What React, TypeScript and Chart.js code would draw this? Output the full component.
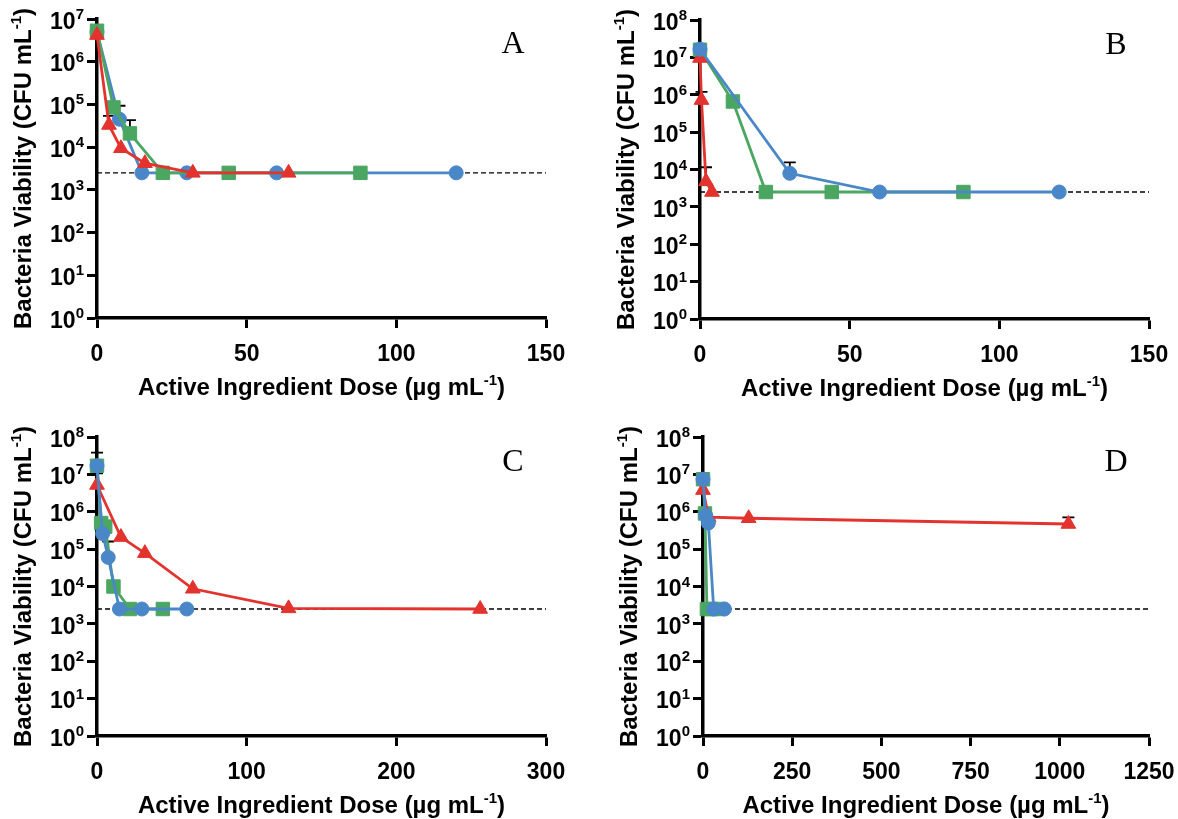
import React, { useEffect, useRef } from "react";
import { Chart, registerables } from "chart.js";
Chart.register(...registerables);

const PAGE_W = 1178;
const PAGE_H = 819;
const BLUE = "#4a87c8";
const GREEN = "#4aa661";
const RED = "#e3332e";
const LOD = 2.5e3;

const X_TITLE = [{ t: "Active Ingredient Dose (\u00b5g mL" }, { t: "-1", sup: true }, { t: ")" }];
const Y_TITLE = [{ t: "Bacteria Viability (CFU mL" }, { t: "-1", sup: true }, { t: ")" }];

// ---------- Panel A ----------
const A_xTicks = [0, 50, 100, 150];
const A_yTicks = [1e0, 1e1, 1e2, 1e3, 1e4, 1e5, 1e6, 1e7];
const A_blueDose = [0, 7.5, 15, 30, 60, 120];
const A_blueCfu = [5.0e6, 4.5e4, 2.5e3, 2.5e3, 2.5e3, 2.5e3];
const A_blueErr = [null, 9.3e4, null, null, null, null];
const A_greenDose = [0, 5.5, 11, 22, 44, 88];
const A_greenCfu = [5.3e6, 8.5e4, 2.1e4, 2.5e3, 2.5e3, 2.5e3];
const A_greenErr = [null, null, 4.3e4, null, null, null];
const A_redDose = [0, 4, 8, 16, 32, 64];
const A_redCfu = [4.2e6, 3.3e4, 9.4e3, 4.2e3, 2.5e3, 2.5e3];
const A_redErr = [null, 5.4e4, null, null, null, null];

// ---------- Panel B ----------
const B_xTicks = [0, 50, 100, 150];
const B_yTicks = [1e0, 1e1, 1e2, 1e3, 1e4, 1e5, 1e6, 1e7, 1e8];
const B_blueDose = [0, 30, 60, 120];
const B_blueCfu = [1.65e7, 7.9e3, 2.5e3, 2.5e3];
const B_blueErr = [2.3e7, 1.55e4, null, null];
const B_greenDose = [0, 11, 22, 44, 88];
const B_greenCfu = [1.6e7, 6.6e5, 2.5e3, 2.5e3, 2.5e3];
const B_greenErr = [null, null, null, null, null];
const B_redDose = [0, 0.5, 2, 4];
const B_redCfu = [9.6e6, 7.2e5, 4.8e3, 2.5e3];
const B_redErr = [null, 1.2e6, 1.15e4, null];

// ---------- Panel C ----------
const C_xTicks = [0, 100, 200, 300];
const C_yTicks = [1e0, 1e1, 1e2, 1e3, 1e4, 1e5, 1e6, 1e7, 1e8];
const C_blueDose = [0, 3.75, 7.5, 15, 30, 60];
const C_blueCfu = [1.7e7, 2.6e5, 6.0e4, 2.5e3, 2.5e3, 2.5e3];
const C_blueErr = [3.8e7, null, 1.6e5, null, null, null];
const C_greenDose = [0, 2.75, 5.5, 11, 22, 44];
const C_greenCfu = [1.7e7, 5.0e5, 4.0e5, 1.0e4, 2.5e3, 2.5e3];
const C_greenErr = [null, null, 4.7e5, null, null, null];
const C_redDose = [0, 16, 32, 64, 128, 256];
const C_redCfu = [5.2e6, 2.1e5, 7.8e4, 8.7e3, 2.6e3, 2.5e3];
const C_redErr = [1.07e7, null, null, null, null, null];

// ---------- Panel D ----------
const D_xTicks = [0, 250, 500, 750, 1000, 1250];
const D_yTicks = [1e0, 1e1, 1e2, 1e3, 1e4, 1e5, 1e6, 1e7, 1e8];
const D_blueDose = [0, 7.5, 15, 30, 60];
const D_blueCfu = [7.4e6, 8.0e5, 5.0e5, 2.5e3, 2.5e3];
const D_blueErr = [1.1e7, 1.0e6, null, null, null];
const D_greenDose = [0, 5.5, 11, 22, 44];
const D_greenCfu = [7.4e6, 9.0e5, 2.5e3, 2.5e3, 2.5e3];
const D_greenErr = [null, null, null, null, null];
const D_redDose = [0, 16, 128, 1024];
const D_redCfu = [3.8e6, 7.2e5, 6.7e5, 4.7e5];
const D_redErr = [null, null, null, 7.1e5];

type Seg = { t: string; sup?: boolean };
const SANS = '"Liberation Sans", Arial, Helvetica, sans-serif';
const SERIF = '"Liberation Serif", "Times New Roman", serif';

function drawRich(ctx: CanvasRenderingContext2D, segs: Seg[], x: number, y: number, size: number, align: string) {
  const supSize = Math.round(size * 0.64);
  const widths = segs.map((s) => {
    ctx.font = `bold ${s.sup ? supSize : size}px ${SANS}`;
    return ctx.measureText(s.t).width;
  });
  const total = widths.reduce((a, b) => a + b, 0);
  let cx = align === "left" ? x : align === "center" ? x - total / 2 : x - total;
  ctx.textAlign = "left";
  ctx.textBaseline = "alphabetic";
  segs.forEach((s, i) => {
    ctx.font = `bold ${s.sup ? supSize : size}px ${SANS}`;
    ctx.fillText(s.t, cx, s.sup ? y - size * 0.42 : y);
    cx += widths[i];
  });
}

function mkSeries(dose, cfu, err, color, style, order) {
  return { dose, cfu, err, color, style, order };
}

const PANELS = [
  {
    letter: "A", xTicks: A_xTicks, yTicks: A_yTicks,
    rect: { left: 97, top: 19, right: 546, bottom: 318 },
    series: [
      mkSeries(A_blueDose, A_blueCfu, A_blueErr, BLUE, "circle", 3),
      mkSeries(A_greenDose, A_greenCfu, A_greenErr, GREEN, "rect", 2),
      mkSeries(A_redDose, A_redCfu, A_redErr, RED, "triangle", 1),
    ],
  },
  {
    letter: "B", xTicks: B_xTicks, yTicks: B_yTicks,
    rect: { left: 700, top: 20, right: 1149, bottom: 319 },
    series: [
      mkSeries(B_blueDose, B_blueCfu, B_blueErr, BLUE, "circle", 1),
      mkSeries(B_greenDose, B_greenCfu, B_greenErr, GREEN, "rect", 3),
      mkSeries(B_redDose, B_redCfu, B_redErr, RED, "triangle", 2),
    ],
  },
  {
    letter: "C", xTicks: C_xTicks, yTicks: C_yTicks,
    rect: { left: 97, top: 437, right: 546, bottom: 736 },
    series: [
      mkSeries(C_blueDose, C_blueCfu, C_blueErr, BLUE, "circle", 1),
      mkSeries(C_greenDose, C_greenCfu, C_greenErr, GREEN, "rect", 3),
      mkSeries(C_redDose, C_redCfu, C_redErr, RED, "triangle", 2),
    ],
  },
  {
    letter: "D", xTicks: D_xTicks, yTicks: D_yTicks,
    rect: { left: 703, top: 437, right: 1149, bottom: 736 },
    series: [
      mkSeries(D_blueDose, D_blueCfu, D_blueErr, BLUE, "circle", 1),
      mkSeries(D_greenDose, D_greenCfu, D_greenErr, GREEN, "rect", 3),
      mkSeries(D_redDose, D_redCfu, D_redErr, RED, "triangle", 2),
    ],
  },
];

const RADIUS: Record<string, number> = { circle: 7, rect: 9.5, triangle: 8.5 };
const AX = 12;
const TICK_FONT = 23;
const TITLE_FONT = 24;

function PanelChart({ p }: { p: any }) {
  const ref = useRef<HTMLCanvasElement>(null);
  useEffect(() => {
    const canvas = ref.current!;
    const { left, top, right, bottom } = p.rect;
    const xMin = p.xTicks[0];
    const xMax = p.xTicks[p.xTicks.length - 1];
    const yMin = p.yTicks[0];
    const yMax = p.yTicks[p.yTicks.length - 1];

    const datasets: any[] = p.series.map((s: any) => ({
      data: s.dose.map((d: number, i: number) => ({ x: d, y: s.cfu[i] })),
      borderColor: s.color,
      backgroundColor: s.color,
      pointBackgroundColor: s.color,
      pointBorderColor: s.color,
      pointStyle: s.style,
      pointRadius: RADIUS[s.style],
      pointBorderWidth: 1,
      borderWidth: 2.8,
      tension: 0,
      clip: false,
      order: s.order,
    }));
    datasets.push({
      data: [{ x: xMin, y: LOD }, { x: xMax, y: LOD }],
      borderColor: "#000",
      borderWidth: 1.4,
      borderDash: [5, 3],
      pointRadius: 0,
      tension: 0,
      clip: false,
      order: 10,
    });

    const errPlugin = {
      id: "errbars",
      beforeDatasetsDraw(chart: any) {
        const ctx = chart.ctx;
        const xs = chart.scales.x;
        const ys = chart.scales.y;
        ctx.save();
        ctx.strokeStyle = "#000";
        ctx.lineWidth = 1.8;
        p.series.forEach((s: any) => {
          s.err.forEach((e: number | null, i: number) => {
            if (e == null) return;
            const px = xs.getPixelForValue(s.dose[i]);
            const py0 = ys.getPixelForValue(s.cfu[i]);
            const py1 = ys.getPixelForValue(e);
            ctx.beginPath();
            ctx.moveTo(px, py0);
            ctx.lineTo(px, py1);
            ctx.moveTo(px - 6, py1);
            ctx.lineTo(px + 6, py1);
            ctx.stroke();
          });
        });
        ctx.restore();
      },
    };

    const labelPlugin = {
      id: "labels",
      afterDraw(chart: any) {
        const ctx = chart.ctx;
        const xs = chart.scales.x;
        const ys = chart.scales.y;
        const ca = chart.chartArea;
        ctx.save();
        ctx.fillStyle = "#000";
        ys.ticks.forEach((t: any) => {
          const py = ys.getPixelForValue(t.value);
          const e = Math.round(Math.log10(t.value));
          drawRich(ctx, [{ t: "10" }, { t: String(e), sup: true }], ca.left - 13, py + TICK_FONT * 0.42, TICK_FONT, "right");
        });
        xs.ticks.forEach((t: any) => {
          const px = xs.getPixelForValue(t.value);
          drawRich(ctx, [{ t: String(t.value) }], px, ca.bottom + 35 + TICK_FONT * 0.36, TICK_FONT, "center");
        });
        drawRich(ctx, X_TITLE, (ca.left + ca.right) / 2, ca.bottom + 68 + TITLE_FONT * 0.36, TITLE_FONT, "center");
        ctx.save();
        ctx.translate(ca.left - 75, (ca.top + ca.bottom) / 2);
        ctx.rotate(-Math.PI / 2);
        drawRich(ctx, Y_TITLE, 0, TITLE_FONT * 0.36, TITLE_FONT, "center");
        ctx.restore();
        ctx.font = `32px ${SERIF}`;
        ctx.textAlign = "center";
        ctx.textBaseline = "middle";
        ctx.fillText(p.letter, ca.right - 33, ca.top + 26);
        ctx.restore();
      },
    };

    const axisCommon = {
      grid: { display: true, drawOnChartArea: false, drawTicks: true, tickLength: 10, tickWidth: 3, tickColor: "#000" },
      border: { display: true, color: "#000", width: 3.5 },
      ticks: { display: false },
    };

    const chart = new Chart(canvas, {
      type: "line",
      data: { datasets },
      options: {
        responsive: false,
        animation: false,
        events: [],
        layout: { padding: { left: left - AX, top, right: PAGE_W - right, bottom: PAGE_H - bottom - AX } },
        plugins: { legend: { display: false }, tooltip: { enabled: false } },
        scales: {
          x: {
            type: "linear", min: xMin, max: xMax, ...axisCommon,
            afterBuildTicks: (s: any) => { s.ticks = p.xTicks.map((v: number) => ({ value: v })); },
            afterFit: (s: any) => { s.height = AX; },
          },
          y: {
            type: "logarithmic", min: yMin, max: yMax, ...axisCommon,
            afterBuildTicks: (s: any) => { s.ticks = p.yTicks.map((v: number) => ({ value: v })); },
            afterFit: (s: any) => { s.width = AX; },
          },
        },
      } as any,
      plugins: [errPlugin, labelPlugin],
    });
    return () => chart.destroy();
  }, []);
  return (
    <canvas
      ref={ref}
      width={PAGE_W}
      height={PAGE_H}
      style={{ position: "absolute", left: 0, top: 0, width: PAGE_W, height: PAGE_H }}
    />
  );
}

export default function App() {
  useEffect(() => {
    document.body.style.margin = "0";
    document.body.style.background = "#fff";
  }, []);
  return (
    <div style={{ position: "relative", width: PAGE_W, height: PAGE_H, background: "#fff" }}>
      {PANELS.map((p) => (
        <PanelChart key={p.letter} p={p} />
      ))}
    </div>
  );
}
